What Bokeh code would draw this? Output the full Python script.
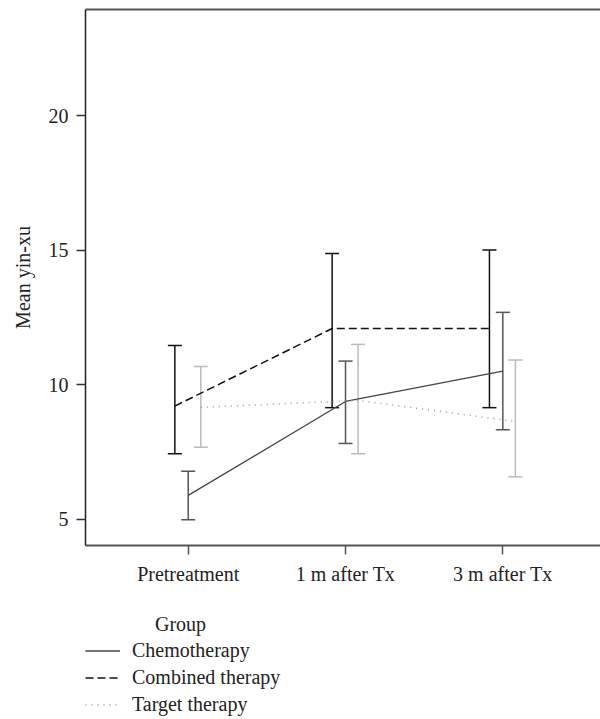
from bokeh.plotting import figure
from bokeh.layouts import column
from bokeh.models import (ColumnDataSource, Range1d, FixedTicker, LinearAxis,
                          Whisker, TeeHead, Legend, LegendItem)
from bokeh.transform import dodge
from bokeh.embed import file_html
from bokeh.resources import INLINE

times = ["Pretreatment", "1 m after Tx", "3 m after Tx"]
pos = [0, 1, 2]

chemo_mean = [5.89, 9.38, 10.51]
chemo_low = [4.99, 7.82, 8.33]
chemo_high = [6.79, 10.88, 12.69]

comb_mean = [9.21, 12.09, 12.09]
comb_low = [7.44, 9.15, 9.15]
comb_high = [11.46, 14.88, 15.01]

targ_mean = [9.16, 9.42, 8.64]
targ_low = [7.68, 7.44, 6.58]
targ_high = [10.68, 11.50, 10.92]

y_ticks = [5, 10, 15, 20]

FONT = "Liberation Serif"
FS = "20px"

p = figure(frame_width=515, frame_height=536, output_backend="svg",
           toolbar_location=None,
           x_range=Range1d(-0.653, 2.621), y_range=Range1d(4.03, 23.94),
           min_border_left=85, min_border_right=0, min_border_top=9,
           min_border_bottom=55)
p.outline_line_color = None
p.grid.visible = False
p.background_fill_color = "white"
p.border_fill_color = "white"

xa = p.xaxis[0]
xa.ticker = FixedTicker(ticks=pos)
xa.major_label_overrides = {i: t for i, t in zip(pos, times)}
xa.minor_tick_line_color = None
xa.major_tick_in = 0
xa.major_tick_out = 9
xa.major_label_standoff = 8
xa.axis_line_color = "#555555"
xa.axis_line_width = 2
xa.major_tick_line_color = "#555555"
xa.major_tick_line_width = 1.5
xa.major_label_text_font = FONT
xa.major_label_text_font_size = FS
xa.major_label_text_color = "#222222"

ya = p.yaxis[0]
ya.ticker = FixedTicker(ticks=y_ticks)
ya.minor_tick_line_color = None
ya.major_tick_in = 0
ya.major_tick_out = 9
ya.major_label_standoff = 8
ya.axis_line_color = "#222222"
ya.axis_line_width = 1.5
ya.major_tick_line_color = "#333333"
ya.major_tick_line_width = 1.5
ya.major_label_text_font = FONT
ya.major_label_text_font_size = FS
ya.major_label_text_color = "#222222"
ya.axis_label = "Mean yin-xu"
ya.axis_label_text_font = FONT
ya.axis_label_text_font_size = FS
ya.axis_label_text_font_style = "normal"
ya.axis_label_text_color = "#222222"
ya.axis_label_standoff = 12

top = LinearAxis(ticker=FixedTicker(ticks=[]), major_tick_out=0, major_tick_in=0,
                 minor_tick_line_color=None, major_label_text_font_size="0px",
                 axis_line_color="#555555", axis_line_width=2)
p.add_layout(top, "above")

# legend panel below the chart
lg = figure(width=600, height=119, output_backend="svg", toolbar_location=None,
            x_range=Range1d(0, 1), y_range=Range1d(0, 1),
            min_border_left=84, min_border_right=0, min_border_top=13,
            min_border_bottom=0)
lg.axis.visible = False
lg.grid.visible = False
lg.outline_line_color = None
lg.background_fill_color = "white"
lg.border_fill_color = "white"

groups = [
    ("Chemotherapy", chemo_mean, chemo_low, chemo_high, 0.0,
     dict(line_color="#444444", line_width=1.3), "#555555"),
    ("Combined therapy", comb_mean, comb_low, comb_high, -0.085,
     dict(line_color="#111111", line_width=1.5, line_dash="8 4"), "#111111"),
    ("Target therapy", targ_mean, targ_low, targ_high, 0.08,
     dict(line_color="#999999", line_width=1.5, line_dash="1 5"), "#bbbbbb"),
]

items = []
for name, m, lo, hi, off, lstyle, ecol in groups:
    src = ColumnDataSource(dict(x=pos, mean=m, lower=lo, upper=hi))
    w = Whisker(base=dodge("x", off, range=p.x_range), lower="lower", upper="upper",
                source=src, dimension="height", line_color=ecol, line_width=1.5,
                upper_head=TeeHead(size=14, line_color=ecol, line_width=1.5),
                lower_head=TeeHead(size=14, line_color=ecol, line_width=1.5))
    p.add_layout(w)
    p.line(x=dodge("x", off, range=p.x_range), y="mean", source=src, **lstyle)
    # same series in the legend panel (outside its visible range) for the key
    r = lg.line(x="x", y="mean", source=src, **lstyle)
    items.append(LegendItem(label=name, renderers=[r]))

legend = Legend(items=items, location="top_left", orientation="vertical",
                title="\u00a0" * 14 + "Group",
                title_text_font=FONT, title_text_font_size=FS,
                title_text_font_style="normal", title_text_color="#222222",
                title_standoff=3,
                label_text_font=FONT, label_text_font_size=FS,
                label_text_color="#222222",
                glyph_width=35, glyph_height=23, label_standoff=12,
                label_height=23, spacing=4, padding=0, margin=0,
                border_line_color=None, background_fill_alpha=0)
lg.add_layout(legend)

layout = column(p, lg, spacing=0)
open("out.html", "w").write(file_html(layout, INLINE))
